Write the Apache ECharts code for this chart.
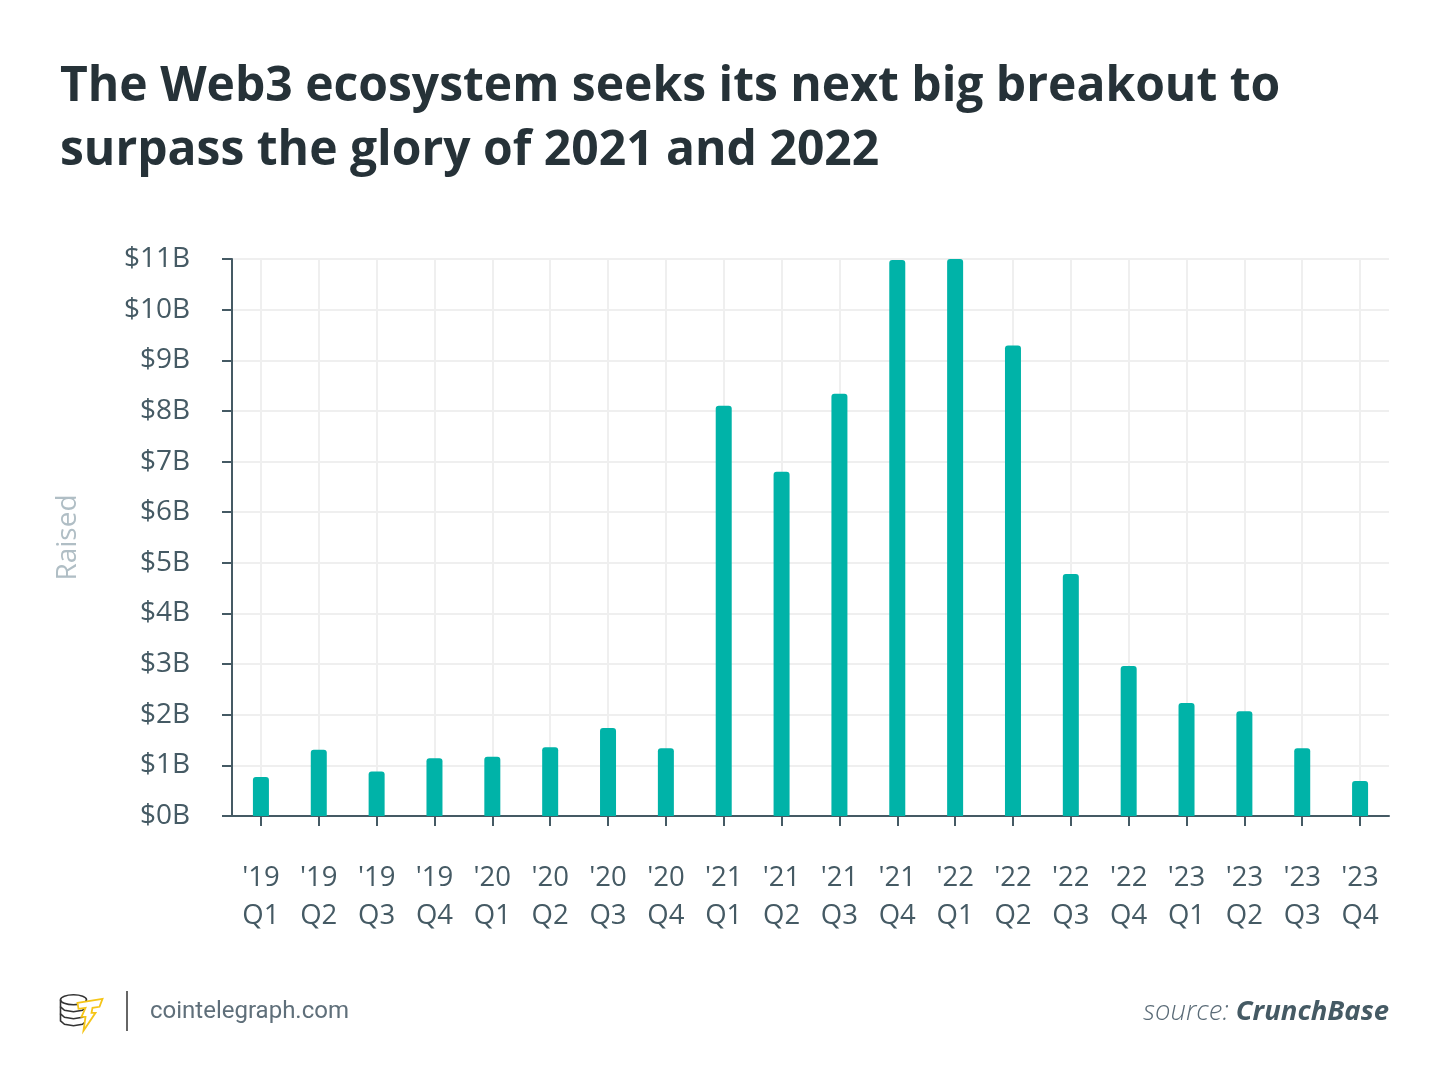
<!DOCTYPE html>
<html>
<head>
<meta charset="utf-8">
<script src="https://cdn.jsdelivr.net/npm/echarts@6/dist/echarts.min.js"></script>
<style>
html,body{margin:0;padding:0;background:#fff;}
#chart{width:1450px;height:1091px;}
</style>
</head>
<body>
<div id="chart"></div>
<script>
const years = ["'19","'19","'19","'19","'20","'20","'20","'20","'21","'21","'21","'21","'22","'22","'22","'22","'23","'23","'23","'23"];
const quarters = ["Q1","Q2","Q3","Q4","Q1","Q2","Q3","Q4","Q1","Q2","Q3","Q4","Q1","Q2","Q3","Q4","Q1","Q2","Q3","Q4"];
const raised = [0.77,1.31,0.88,1.14,1.17,1.36,1.74,1.34,8.10,6.80,8.34,10.98,11.0,9.29,4.78,2.96,2.23,2.07,1.34,0.69];
const yTicks = [0,1,2,3,4,5,6,7,8,9,10,11];
const categories = years.map((y,i)=>y+'\n'+quarters[i]);

const chart = echarts.init(document.getElementById('chart'), null, {renderer:'canvas'});
const dark = '#455a64';
const font = '"Open Sans", sans-serif';
chart.setOption({
  backgroundColor:'#ffffff',
  animation:false,
  title:{
    text:'The Web3 ecosystem seeks its next big breakout to\nsurpass the glory of 2021 and 2022',
    left:55, top:50,
    textStyle:{fontFamily:font, fontWeight:'bold', fontSize:48, lineHeight:64, color:'#263238'}
  },
  grid:{left:232, right:61, top:259, bottom:275, containLabel:false},
  xAxis:{
    type:'category',
    data:categories,
    boundaryGap:true,
    axisLine:{show:true, lineStyle:{color:dark, width:2}},
    axisTick:{show:true, alignWithLabel:true, length:10, lineStyle:{color:dark, width:2}},
    axisLabel:{fontFamily:font, fontSize:27.5, lineHeight:38, color:dark, margin:43, interval:0},
    splitLine:{show:true, alignWithLabel:true, lineStyle:{color:'#efefef', width:2}}
  },
  yAxis:{
    type:'value',
    min:0, max:11, interval:1,
    name:'Raised',
    nameLocation:'middle',
    nameGap:150,
    nameTextStyle:{fontFamily:font, fontSize:28, color:'#b0bec5'},
    axisLine:{show:true, lineStyle:{color:dark, width:2}},
    axisTick:{show:true, length:10, lineStyle:{color:dark, width:2}},
    axisLabel:{fontFamily:font, fontSize:28, color:dark, margin:42, formatter:v=>'$'+v+'B'},
    splitLine:{show:true, lineStyle:{color:'#efefef', width:2}}
  },
  series:[{
    type:'bar',
    data:raised,
    barWidth:16,
    itemStyle:{color:'#00b3a8', borderRadius:[3,3,0,0]},
    z:3
  }],
  graphic:[
    {type:'text', left:150, top:1000, style:{text:'cointelegraph.com', font:'24px Roboto, sans-serif', fill:'#5f6f7a'}},
    {type:'line', shape:{x1:127, y1:991, x2:127, y2:1031}, style:{stroke:'#666', lineWidth:2}},
    {type:'group', left:58, top:994, children:[
      {type:'ellipse', shape:{cx:14, cy:7, rx:13, ry:5}, style:{fill:'#fff', stroke:'#333', lineWidth:1.6}},
      {type:'polyline', shape:{points:[[1,7],[1,14],[5,17.5],[14,19],[23,17.5],[27,14]]}, style:{fill:null, stroke:'#333', lineWidth:1.6}},
      {type:'polyline', shape:{points:[[1,14],[1,21],[5,24.5],[14,26],[23,24.5],[27,21]]}, style:{fill:null, stroke:'#333', lineWidth:1.6}},
      {type:'polyline', shape:{points:[[1,21],[1,28],[5,31.5],[14,33],[23,31.5],[27,28]]}, style:{fill:null, stroke:'#333', lineWidth:1.6}},
      {type:'polygon', shape:{points:[[18,10],[43,6],[40,14],[33,15],[32,20],[36,20],[24,38],[26,24],[22,24],[26,15],[19,16]]}, style:{fill:'#fff', stroke:'#f5c518', lineWidth:1.8}}
    ]},
    {type:'text', right:61, top:999, style:{text:'{a|source: }{b|CrunchBase}', rich:{
      a:{fontFamily:font, fontSize:27.5, fontStyle:'italic', fontWeight:300, fill:'#5a6b77'},
      b:{fontFamily:font, fontSize:27.5, fontStyle:'italic', fontWeight:'bold', fill:'#455a64'}
    }}}
  ]
});
</script>
</body>
</html>
